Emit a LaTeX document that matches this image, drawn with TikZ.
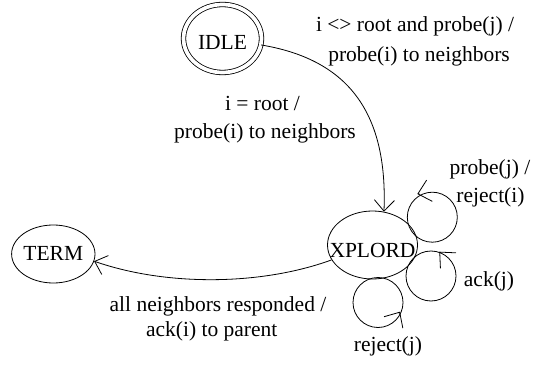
\documentclass[tikz,border=0pt]{standalone}
\usepackage{fontspec}
\setmainfont{Liberation Serif}
\usetikzlibrary{arrows.meta,shapes.geometric}
\begin{document}
\begin{tikzpicture}[x=1pt,y=1pt,
  every node/.style={font=\fontsize{21.5}{27}\selectfont},
  state/.style={draw, ellipse, line width=0.8pt, inner sep=0pt, text depth=0pt},
  lbl/.style={anchor=base, inner sep=0pt},
  arr/.style={line width=0.8pt, -{Straight Barb[length=11pt,width=20pt]}},
  looparr/.style={line width=0.8pt, -{Straight Barb[length=12pt,width=22pt]}},
  loopline/.style={line width=0.8pt}
]
\useasboundingbox (0,0) rectangle (537,364);
% states
\node[state, double, double distance=3.7pt, minimum width=78pt, minimum height=68pt, text height=22.2pt] (idle) at (222.5,325.5) {\makebox[0pt]{IDLE}};
\node[state, minimum width=90pt, minimum height=68pt, text height=25pt] (xplord) at (372.5,119) {\makebox[0pt]{XPLORD}};
\node[state, minimum width=83.4pt, minimum height=58pt, text height=12pt] (term) at (53.3,110) {\makebox[0pt]{TERM}};
% transitions
\draw[arr] (idle) .. controls (345,305) and (388,255) .. (xplord.71);
\draw[arr] (xplord) .. controls (260,78) and (165,78) .. (term.-10);
% self loops
\coordinate (l1) at (432.3,146.8);
\coordinate (l2) at (431,88);
\coordinate (l3) at (378,61.5);
\coordinate (t1) at (417.3,170);
\coordinate (t2) at (439.3,112.3);
\coordinate (t3) at (400,52.3);
\draw[loopline] (l1) circle[radius=25];
\draw[loopline] (l2) circle[radius=25];
\draw[loopline] (l3) circle[radius=25];
\draw[looparr] ([shift={(15:2)}]t1) -- (t1);
\draw[looparr] ([shift={(-45:2)}]t2) -- (t2);
\draw[looparr] ([shift={(238.6:2)}]t3) -- (t3);
% labels
\node[lbl] (a1) at (415,332.3) {i <> root and probe(j) /};
\node[lbl] (a2) at (419,302.3) {probe(i) to neighbors};
\node[lbl] (b1) at (262.5,253) {i = root /};
\node[lbl] (b2) at (265,225.7) {probe(i) to neighbors};
\node[lbl] (c1) at (218,53) {all neighbors responded /};
\node[lbl] (c2) at (211.7,28) {ack(i) to parent};
\node[lbl] (d1) at (490,189) {probe(j) /};
\node[lbl] (d2) at (490.5,161.3) {reject(i)};
\node[lbl] (e1) at (489,77.3) {ack(j)};
\node[lbl] (f1) at (388,12.3) {reject(j)};
\end{tikzpicture}
\end{document}
